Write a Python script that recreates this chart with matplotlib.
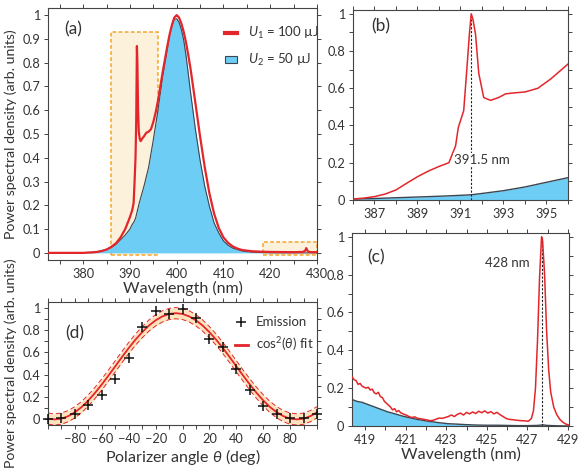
import matplotlib
matplotlib.use('Agg')
import matplotlib.pyplot as plt
from matplotlib.patches import Rectangle, Patch
from matplotlib.lines import Line2D
from matplotlib.ticker import MultipleLocator

plt.rcParams['font.family'] = ['Lato', 'DejaVu Sans']
plt.rcParams['mathtext.fontset'] = 'custom'
plt.rcParams['mathtext.rm'] = 'Lato'
plt.rcParams['mathtext.it'] = 'Lato:italic'

RED = '#e3262b'
BLUE = '#6dcdf4'
EDGE = '#3c4650'
ORANGE = '#f5a52a'
BEIGE = '#fcf2dc'
TXT = '#333333'

# ---- panel (a): full spectra
wl_red_a = [372.5, 378, 380, 382, 383, 384, 385, 386, 387, 388, 389, 390, 390.5, 390.8,
            391.0, 391.2, 391.35, 391.5, 391.6, 391.75, 391.9, 392.1, 392.3, 392.6, 393,
            393.5, 394, 394.5, 395, 395.5, 396, 397, 398, 398.5, 399, 399.5, 400, 400.5,
            401, 401.5, 402, 402.5, 403, 404, 405, 406, 407, 408, 409, 410, 411, 412,
            413, 414, 416, 418, 420, 425, 427, 427.5, 427.7, 427.9, 428.3, 429, 430]
psd_red_a = [0.0, 0.0, 0.0, 0.002, 0.004, 0.008, 0.014, 0.025, 0.04, 0.065, 0.1, 0.15, 0.18, 0.21,
             0.3, 0.4, 0.55, 0.87, 0.8, 0.6, 0.51, 0.48, 0.47, 0.48, 0.49,
             0.505, 0.51, 0.52, 0.55, 0.59, 0.64, 0.76, 0.87, 0.92, 0.96, 0.99, 1.0, 0.99,
             0.965, 0.93, 0.885, 0.83, 0.77, 0.63, 0.49, 0.36, 0.25, 0.165, 0.105, 0.065, 0.042, 0.027,
             0.018, 0.012, 0.007, 0.005, 0.004, 0.003, 0.004, 0.01, 0.02, 0.01, 0.004, 0.003, 0.003]
wl_blue_a = [372.5, 378, 380, 382, 383, 384, 385, 386, 387, 388, 389, 390, 390.5, 390.8, 391.2,
             392, 393, 394, 395, 396, 397, 398, 398.5, 399, 399.5, 400, 400.5, 401, 401.5,
             402, 403, 404, 405, 406, 407, 408, 409, 410, 411, 412, 414, 416, 420, 430]
psd_blue_a = [0, 0, 0.001, 0.003, 0.005, 0.009, 0.015, 0.022, 0.035, 0.055, 0.075, 0.1, 0.12, 0.128, 0.145,
              0.21, 0.28, 0.36, 0.475, 0.6, 0.74, 0.855, 0.915, 0.955, 0.982, 0.985, 0.97, 0.94, 0.895,
              0.83, 0.67, 0.52, 0.39, 0.28, 0.196, 0.126, 0.084, 0.05, 0.032, 0.02, 0.008, 0.003, 0.0, 0]
zoom_boxes = [(386, 396, -0.01, 0.93), (418.4, 430, -0.01, 0.045)]

# ---- panel (b): zoom 386-396 nm
wl_red_b = [386.0, 386.5, 387, 387.5, 388, 388.5, 389, 389.5, 390, 390.46, 390.77, 390.9, 391.15,
            391.3, 391.42, 391.5, 391.58, 391.7, 391.85, 392.08, 392.4, 392.77, 393.1, 393.5,
            394, 394.6, 395.2, 395.6, 396]
psd_red_b = [0.005, 0.01, 0.018, 0.032, 0.054, 0.09, 0.125, 0.155, 0.18, 0.2, 0.29, 0.39, 0.48,
             0.71, 0.9, 1.0, 0.97, 0.89, 0.68, 0.55, 0.535, 0.55, 0.57, 0.575,
             0.58, 0.6, 0.65, 0.69, 0.73]
wl_blue_b = [386, 387, 388, 389, 390, 391, 391.5, 392, 393, 394, 395, 396]
psd_blue_b = [0.005, 0.008, 0.012, 0.016, 0.02, 0.025, 0.028, 0.035, 0.05, 0.07, 0.095, 0.12]
peak_b = 391.5

# ---- panel (c): zoom 418-429 nm
wl_red_c = [418.35, 418.45, 418.55, 418.65, 418.75, 418.85, 418.95, 419.05, 419.15, 419.25,
            419.35, 419.45, 419.55, 419.65, 419.75, 419.85, 419.95, 420.05, 420.15, 420.25,
            420.35, 420.45, 420.55, 420.65, 420.75, 420.85, 420.95, 421.05, 421.15, 421.3,
            421.45, 421.6, 421.75, 421.9, 422.05, 422.2, 422.35, 422.5, 422.65, 422.8,
            422.95, 423.1, 423.25, 423.4, 423.55, 423.7, 423.85, 424.0, 424.15, 424.3,
            424.45, 424.6, 424.75, 424.9, 425.05, 425.2, 425.35, 425.5, 425.65, 425.8,
            425.95, 426.1, 426.3, 426.5, 426.7, 426.9, 427.05, 427.2, 427.3, 427.4,
            427.5, 427.6, 427.7, 427.75, 427.85, 427.95, 428.05, 428.15, 428.3, 428.45,
            428.6, 428.75, 428.9, 429.05]
psd_red_c = [0.26, 0.245, 0.24, 0.22, 0.225, 0.21, 0.205, 0.2, 0.205, 0.19,
             0.195, 0.175, 0.17, 0.178, 0.155, 0.15, 0.13, 0.12, 0.11, 0.1,
             0.085, 0.092, 0.075, 0.082, 0.07, 0.065, 0.06, 0.057, 0.05, 0.045,
             0.048, 0.04, 0.038, 0.035, 0.032, 0.028, 0.03, 0.036, 0.042, 0.04,
             0.045, 0.05, 0.058, 0.05, 0.062, 0.068, 0.058, 0.072, 0.064, 0.074,
             0.066, 0.078, 0.07, 0.08, 0.068, 0.076, 0.064, 0.072, 0.06, 0.05,
             0.04, 0.035, 0.033, 0.03, 0.028, 0.027, 0.025, 0.04, 0.08, 0.2,
             0.45, 0.78, 1.0, 0.98, 0.8, 0.5, 0.3, 0.18, 0.1, 0.06,
             0.035, 0.02, 0.01, 0.005]
wl_blue_c = [418.35, 418.6, 418.85, 419.1, 419.35, 419.6, 419.85, 420.1, 420.35, 420.6, 420.85,
             421.1, 421.35, 421.6, 421.85, 422.1, 422.35, 422.6, 422.85, 423.1, 423.5, 424,
             424.5, 425, 425.5, 426, 426.5, 427, 427.5, 427.75, 428, 428.5, 429.05]
psd_blue_c = [0.14, 0.13, 0.125, 0.115, 0.105, 0.095, 0.085, 0.075, 0.068, 0.06, 0.052,
              0.046, 0.04, 0.034, 0.03, 0.025, 0.022, 0.018, 0.015, 0.012, 0.01, 0.007,
              0.005, 0.004, 0.004, 0.003, 0.002, 0.002, 0.003, 0.006, 0.003, 0.001, 0.0]
peak_c = 427.7

# ---- panel (d): polarization
angle_em = [-100, -90, -80, -70, -60, -50, -40, -30, -20, -10, 0, 10, 20, 30, 40, 50, 60, 70, 80, 90, 100]
psd_em = [0.0, 0.012, 0.05, 0.125, 0.22, 0.36, 0.546, 0.83, 0.965, 0.94, 0.99, 0.905, 0.72,
          0.645, 0.45, 0.267, 0.116, 0.045, 0.012, 0.015, 0.05]
angle_fit = [-100, -95, -90, -85, -80, -75, -70, -65, -60, -55, -50, -45, -40, -35, -30, -25, -20,
             -15, -10, -5, 0, 5, 10, 15, 20, 25, 30, 35, 40, 45, 50, 55, 60, 65, 70, 75, 80,
             85, 90, 95, 100]
psd_fit = [0.007, 0.0, 0.007, 0.029, 0.064, 0.111, 0.17, 0.238, 0.313, 0.393, 0.475, 0.558, 0.638,
           0.713, 0.78, 0.839, 0.886, 0.921, 0.943, 0.95, 0.943, 0.921, 0.886, 0.839, 0.78, 0.713,
           0.638, 0.558, 0.475, 0.393, 0.313, 0.238, 0.17, 0.111, 0.064, 0.029, 0.007, 0.0, 0.007,
           0.029, 0.064]
fit_err = 0.05


def style(ax):
    for s in ax.spines.values():
        s.set_color('#444444')
        s.set_linewidth(0.8)
    ax.tick_params(which='both', direction='out', top=True, right=True,
                   labelsize=9.2, colors='#444444', labelcolor=TXT, width=0.7, pad=2.5)
    ax.tick_params(which='major', length=3)
    ax.tick_params(which='minor', length=3)


fig = plt.figure(figsize=(5.8, 4.69), dpi=100)

# (a)
ax = fig.add_axes([0.0828, 0.4456, 0.4638, 0.5373])
for x0, x1, y0, y1 in zoom_boxes:
    ax.add_patch(Rectangle((x0, y0), x1 - x0, y1 - y0, facecolor=BEIGE, edgecolor=ORANGE,
                           linestyle=(0, (2.5, 1.5)), lw=1.1, zorder=1))
ax.fill_between(wl_blue_a, psd_blue_a, 0, color=BLUE, lw=0, zorder=2)
ax.plot(wl_blue_a, psd_blue_a, color=EDGE, lw=0.8, zorder=3)
ax.plot(wl_red_a, psd_red_a, color=RED, lw=1.6, zorder=4)
ax.set_xlim(372.5, 430)
ax.set_ylim(-0.03, 1.03)
ax.set_xticks([380, 390, 400, 410, 420, 430])
ax.xaxis.set_minor_locator(MultipleLocator(5))
ax.set_yticks([0, 0.1, 0.2, 0.3, 0.4, 0.5, 0.6, 0.7, 0.8, 0.9, 1])
ax.set_yticklabels(['0', '0.1', '0.2', '0.3', '0.4', '0.5', '0.6', '0.7', '0.8', '0.9', '1'])
ax.set_xlabel('Wavelength (nm)', fontsize=11.5, color=TXT, labelpad=1)
ax.set_ylabel('Power spectral density (arb. units)', fontsize=10.2, color=TXT, labelpad=4)
style(ax)
ax.text(0.06, 0.895, '(a)', transform=ax.transAxes, fontsize=12.5, color=TXT)
handles = [Line2D([], [], color=RED, lw=3),
           Patch(facecolor=BLUE, edgecolor=EDGE, lw=0.8)]
ax.legend(handles, [r'$U_1$ = 100 µJ', r'$U_2$ = 50 µJ'], loc='upper left',
          bbox_to_anchor=(0.615, 0.98), frameon=False, fontsize=9.5, handlelength=0.9,
          handleheight=0.5, handletextpad=0.8, labelspacing=0.85, labelcolor=TXT)

# (b)
ax = fig.add_axes([0.6086, 0.5736, 0.3707, 0.405])
ax.fill_between(wl_blue_b, psd_blue_b, 0, color=BLUE, lw=0, zorder=2)
ax.plot(wl_blue_b, psd_blue_b, color=EDGE, lw=1.0, zorder=3)
ax.plot(wl_red_b, psd_red_b, color=RED, lw=1.1, zorder=4)
ax.plot([peak_b, peak_b], [0, 1], color='#222222', lw=0.8, ls=(0, (2, 1.5)), zorder=3)
ax.text(392.0, 0.215, '391.5 nm', ha='center', va='center', fontsize=9.5, color=TXT, zorder=5,
        bbox=dict(facecolor='white', edgecolor='none', pad=0.5))
ax.set_xlim(386, 396)
ax.set_ylim(0, 1.02)
ax.set_xticks([387, 389, 391, 393, 395])
ax.xaxis.set_minor_locator(MultipleLocator(1))
ax.set_yticks([0, 0.2, 0.4, 0.6, 0.8, 1])
ax.set_yticklabels(['0', '0.2', '0.4', '0.6', '0.8', '1'])
ax.yaxis.set_minor_locator(MultipleLocator(0.1))
style(ax)
ax.text(0.085, 0.885, '(b)', transform=ax.transAxes, fontsize=12.5, color=TXT)

# (c)
ax = fig.add_axes([0.6069, 0.0917, 0.374, 0.4115])
ax.fill_between(wl_blue_c, psd_blue_c, 0, color=BLUE, lw=0, zorder=2)
ax.plot(wl_blue_c, psd_blue_c, color=EDGE, lw=1.0, zorder=3)
ax.plot(wl_red_c, psd_red_c, color=RED, lw=1.1, zorder=4)
ax.plot([peak_c, peak_c], [0, 1], color='#222222', lw=0.8, ls=(0, (2, 1.5)), zorder=3)
ax.text(426.0, 0.86, '428 nm', ha='center', va='center', fontsize=9.5, color=TXT)
ax.set_xlim(418.35, 429.05)
ax.set_ylim(0, 1.02)
ax.set_xticks([419, 421, 423, 425, 427, 429])
ax.xaxis.set_minor_locator(MultipleLocator(1))
ax.set_yticks([0, 0.2, 0.4, 0.6, 0.8, 1])
ax.set_yticklabels(['0', '0.2', '0.4', '0.6', '0.8', '1'])
ax.yaxis.set_minor_locator(MultipleLocator(0.1))
ax.set_xlabel('Wavelength (nm)', fontsize=11.5, color=TXT, labelpad=1)
style(ax)
ax.text(0.07, 0.845, '(c)', transform=ax.transAxes, fontsize=12.5, color=TXT)

# (d)
ax = fig.add_axes([0.0828, 0.0938, 0.4638, 0.2623])
lo = [v - fit_err for v in psd_fit]
hi = [v + fit_err for v in psd_fit]
ax.fill_between(angle_fit, lo, hi, color='#fde3bd', lw=0, zorder=1)
ax.plot(angle_fit, hi, color=RED, lw=0.7, ls=(0, (5, 3)), zorder=2)
ax.plot(angle_fit, lo, color=RED, lw=0.7, ls=(0, (5, 3)), zorder=2)
ax.plot(angle_fit, psd_fit, color=RED, lw=1.3, zorder=3)
ax.plot(angle_em, psd_em, ls='none', marker='+', ms=6.5, mew=1.1, color='#111111', zorder=4,
        clip_on=False)
ax.set_xlim(-100, 100)
ax.set_ylim(-0.05, 1.05)
ax.set_xticks([-80, -60, -40, -20, 0, 20, 40, 60, 80])
ax.xaxis.set_minor_locator(MultipleLocator(10))
ax.set_yticks([0, 0.2, 0.4, 0.6, 0.8, 1])
ax.set_yticklabels(['0', '0.2', '0.4', '0.6', '0.8', '1'])
ax.yaxis.set_minor_locator(MultipleLocator(0.1))
ax.set_xlabel(r'Polarizer angle $\theta$ (deg)', fontsize=11.5, color=TXT, labelpad=2)
ax.set_ylabel('Power spectral density (arb. units)', fontsize=10.2, color=TXT, labelpad=4)
style(ax)
ax.text(0.065, 0.7, '(d)', transform=ax.transAxes, fontsize=12.5, color=TXT)
handles = [Line2D([], [], ls='none', marker='+', ms=6.5, mew=1.1, color='#111111'),
           Line2D([], [], color=RED, lw=2)]
ax.legend(handles, ['Emission', r'cos$^2$($\theta$) fit'], loc='upper left',
          bbox_to_anchor=(0.65, 0.98), frameon=False, fontsize=9.5, handlelength=1.0,
          handletextpad=0.6, labelspacing=0.55, labelcolor=TXT)

fig.savefig('out.png', dpi=100)
